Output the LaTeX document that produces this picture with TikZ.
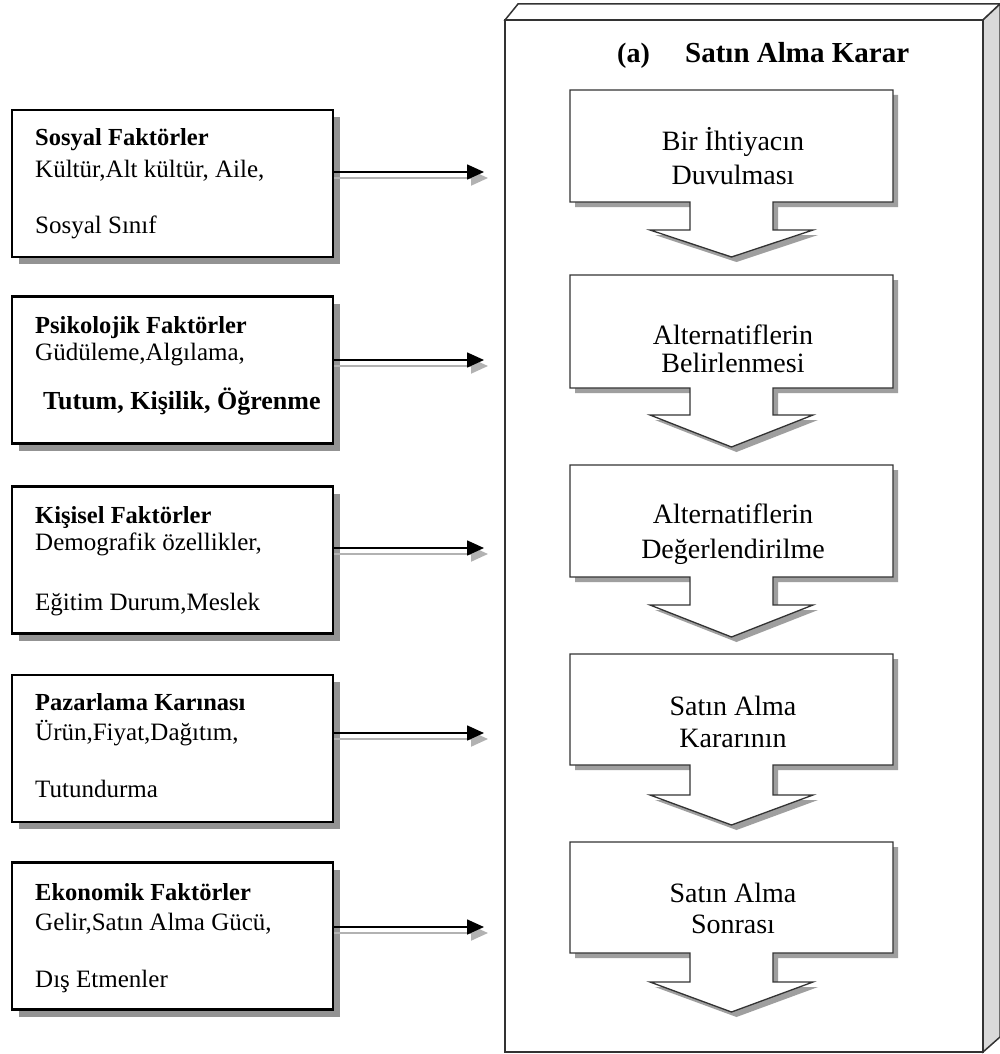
\documentclass[tikz,border=0pt]{standalone}
\usepackage{fontspec}
\setmainfont{Liberation Serif}
\usetikzlibrary{arrows.meta,calc,shadows}
\newcommand\stepshape[4]{%
  (570,#1) -- (893,#1) -- (893,#2) -- (773,#2) -- (773,#3) -- (813,#3) -- (731.5,#4) -- (650,#3) -- (690,#3) -- (690,#2) -- (570,#2) -- cycle}
\newcommand\drawstep[4]{%
  \begin{scope}[shift={(5,5)}]\fill[fshadow] \stepshape{#1}{#2}{#3}{#4};\end{scope}
  \draw[flow] \stepshape{#1}{#2}{#3}{#4};}
\begin{document}
\begin{tikzpicture}[x=1pt,y=-1pt,
  lbox/.style={draw=black,line width=2.2pt,fill=white,minimum width=321pt,minimum height=147pt,inner sep=0pt,
    drop shadow={shadow xshift=7pt,shadow yshift=-7pt,fill=gray!85,opacity=1}},
  ltxt/.style={anchor=base west,inner sep=0pt,font=\fontsize{25}{28}\selectfont},
  lhead/.style={anchor=base west,inner sep=0pt,font=\fontsize{24.5}{28}\selectfont\bfseries},
  rtxt/.style={anchor=base,inner sep=0pt,font=\fontsize{28}{32}\selectfont},
  flow/.style={draw=black!80,line width=1.3pt,fill=white},
  fshadow/.style={fill=gray!75,draw=none},
  link/.style={line width=1.6pt,black,-{Triangle[length=17pt,width=15pt]}},
  linkshadow/.style={line width=2pt,gray!60,-{Triangle[length=17pt,width=15pt]}},
  cube/.style={line width=1.5pt,draw=black!80}
]
\useasboundingbox (0,0) rectangle (1000,1054);
% cube frame
\draw[cube,fill=white] (518,4) -- (1000,4) -- (983,20) -- (505,20) -- cycle;
\draw[cube,fill=gray!30] (983,20) -- (1000,4) -- (1000,1037) -- (983,1052) -- cycle;
\draw[cube,fill=white] (505,20) rectangle (983,1052);
% title
\node[anchor=base west,inner sep=0pt,font=\fontsize{28}{32}\selectfont\bfseries] (ta) at (617,63) {(a)};
\node[anchor=base west,inner sep=0pt,font=\fontsize{29}{32}\selectfont\bfseries] (tb) at (685,63) {Satın Alma Karar};
% flow steps
\drawstep{90}{202}{230}{257}
\drawstep{275}{388}{415}{447}
\drawstep{465}{577}{605}{637}
\drawstep{654}{765}{795}{825}
\drawstep{842}{953}{982}{1012}
\node[rtxt] (r1a) at (733,150) {Bir İhtiyacın};
\node[rtxt] (r1b) at (733,184) {Duvulması};
\node[rtxt] (r2a) at (733,344) {Alternatiflerin};
\node[rtxt] (r2b) at (733,372) {Belirlenmesi};
\node[rtxt] (r3a) at (733,523) {Alternatiflerin};
\node[rtxt] (r3b) at (733,558) {Değerlendirilme};
\node[rtxt] (r4a) at (733,715) {Satın Alma};
\node[rtxt] (r4b) at (733,747) {Kararının};
\node[rtxt] (r5a) at (733,902) {Satın Alma};
\node[rtxt] (r5b) at (733,933) {Sonrası};
% left boxes
\node[lbox] (s1) at (172.5,183.5) {};
\node[lbox] (s2) at (172.5,370) {};
\node[lbox] (s3) at (172.5,560) {};
\node[lbox] (s4) at (172.5,748.5) {};
\node[lbox] (s5) at (172.5,936) {};
\node[lhead] (s1a) at (35,145) {Sosyal Faktörler};
\node[ltxt] (s1b) at (35,177) {Kültür,Alt kültür, Aile,};
\node[ltxt] (s1c) at (35,233) {Sosyal Sınıf};
\node[lhead] (s2a) at (35,333) {Psikolojik Faktörler};
\node[ltxt] (s2b) at (35,360) {Güdüleme,Algılama,};
\node[anchor=base west,inner sep=0pt,font=\fontsize{26}{28}\selectfont\bfseries] (s2c) at (43,409) {Tutum, Kişilik, Öğrenme};
\node[lhead] (s3a) at (35,523) {Kişisel Faktörler};
\node[ltxt] (s3b) at (35,550) {Demografik özellikler,};
\node[ltxt] (s3c) at (35,610) {Eğitim Durum,Meslek};
\node[lhead] (s4a) at (35,710) {Pazarlama Karınası};
\node[ltxt] (s4b) at (35,740) {Ürün,Fiyat,Dağıtım,};
\node[ltxt] (s4c) at (35,797) {Tutundurma};
\node[lhead] (s5a) at (35,900) {Ekonomik Faktörler};
\node[ltxt] (s5b) at (35,930) {Gelir,Satın Alma Gücü,};
\node[ltxt] (s5c) at (35,987) {Dış Etmenler};
% arrows
\coordinate (t1) at (484,172);
\coordinate (t2) at (484,360);
\coordinate (t3) at (484,548);
\coordinate (t4) at (484,733);
\coordinate (t5) at (484,927);
\foreach \i in {1,...,5}{
  \draw[linkshadow] ($(s\i.east |- t\i)+(0,6)$) -- ($(t\i)+(4,6)$);
  \draw[link] (s\i.east |- t\i) -- (t\i);
}
\end{tikzpicture}
\end{document}
